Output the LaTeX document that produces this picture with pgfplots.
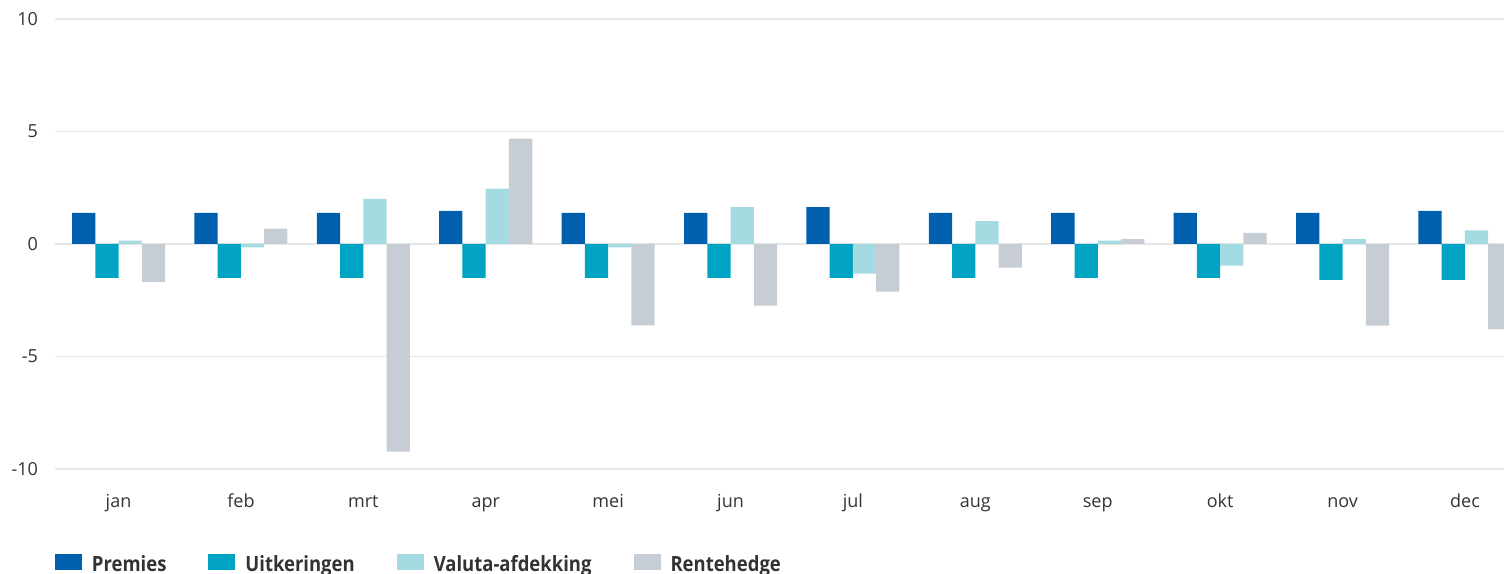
\documentclass[border=0pt]{standalone}
\usepackage{pgfplots}
\pgfplotsset{compat=1.18}
\usepackage{fontspec}
\setmainfont{Open Sans}
\newfontfamily\legfont[FakeStretch=0.88]{Open Sans}
\definecolor{cPrem}{HTML}{0060AE}
\definecolor{cUit}{HTML}{00A3C1}
\definecolor{cVal}{HTML}{A4DBE3}
\definecolor{cRen}{HTML}{C6CDD4}
\definecolor{cGrid}{HTML}{E6E6E6}
\definecolor{cTxt}{HTML}{333333}
\begin{document}
\begin{tikzpicture}
\useasboundingbox (0,0) rectangle (752pt,286.5pt);
\begin{axis}[
  at={(27.5pt,52pt)}, anchor=south west,
  scale only axis, width=724.5pt, height=225pt,
  xmin=-0.519, xmax=11.319, ymin=-10, ymax=10,
  clip=true,
  ybar=0pt, bar width=0.19,
  axis line style={draw=none},
  major tick length=0pt,
  xtick={0,...,11},
  xticklabels={jan,feb,mrt,apr,mei,jun,jul,aug,sep,okt,nov,dec},
  ytick={-10,-5,0,5,10},
  yticklabels={-10,-5,0,5,10},
  ymajorgrids, xmajorgrids=false,
  major grid style={draw=cGrid, line width=0.6pt},
  tick label style={font=\fontsize{9}{10}\selectfont, text=cTxt},
  xticklabel style={anchor=base, yshift=-19.5pt},
  yticklabel style={anchor=east, xshift=-5pt},
  every axis plot/.append style={draw=none},
  legend style={at={(axis description cs:0,-0.207)}, anchor=west,
    draw=none, fill=none, inner sep=0pt, outer sep=0pt,
    font=\legfont\fontsize{10.5}{12}\selectfont\bfseries, text=cTxt,
    /tikz/every even column/.append style={column sep=21pt},
    nodes={inner sep=0pt, anchor=west}},
  legend columns=-1,
  legend image code/.code={\fill[#1] (0pt,-4pt) rectangle (13.5pt,4pt);},
  legend cell align=left,
]
\addplot[fill=cPrem] coordinates {(0,1.38) (1,1.38) (2,1.38) (3,1.47) (4,1.38) (5,1.38) (6,1.64) (7,1.38) (8,1.38) (9,1.38) (10,1.38) (11,1.47)};
\addplot[fill=cUit] coordinates {(0,-1.51) (1,-1.51) (2,-1.51) (3,-1.51) (4,-1.51) (5,-1.51) (6,-1.51) (7,-1.51) (8,-1.51) (9,-1.51) (10,-1.6) (11,-1.6)};
\addplot[fill=cVal] coordinates {(0,0.15) (1,-0.15) (2,2.01) (3,2.46) (4,-0.15) (5,1.64) (6,-1.32) (7,1.02) (8,0.15) (9,-0.96) (10,0.22) (11,0.6)};
\addplot[fill=cRen] coordinates {(0,-1.69) (1,0.68) (2,-9.23) (3,4.68) (4,-3.62) (5,-2.74) (6,-2.12) (7,-1.05) (8,0.22) (9,0.49) (10,-3.63) (11,-3.8)};
\legend{\hspace{5pt}\raisebox{-2.5pt}{Premies},\hspace{5pt}\raisebox{-2.5pt}{Uitkeringen},\hspace{5pt}\raisebox{-2.5pt}{Valuta-afdekking},\hspace{5pt}\raisebox{-2.5pt}{Rentehedge}}
\end{axis}
\end{tikzpicture}
\end{document}
